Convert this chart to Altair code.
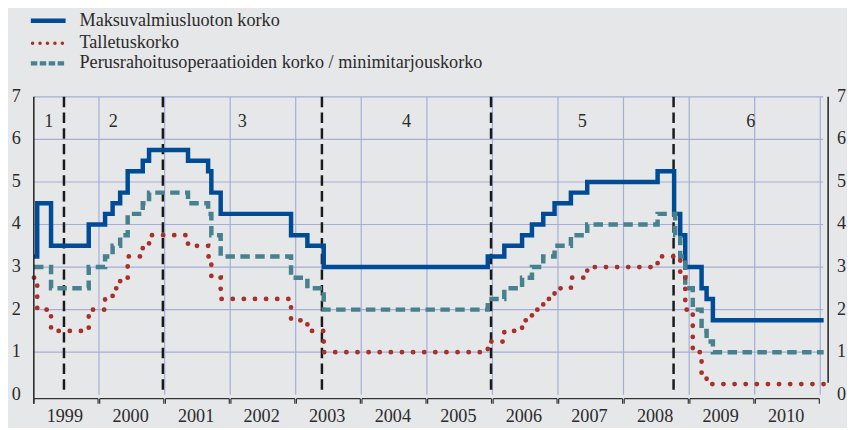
import altair as alt
import pandas as pd

W, H = 800, 300
BLUE = "#004b96"
TEAL = "#47818e"
RED = "#a8302b"
GRID = "#a4aed6"
INK = "#2b2b2b"
FONT = "'Liberation Serif', 'Times New Roman', 'DejaVu Serif', serif"
FS = 18.3

# ---- data (ECB key rates, step changes) ----
dates_marginal = ["1999-01-04", "1999-01-22", "1999-04-09", "1999-11-05",
                  "2000-02-04", "2000-03-17", "2000-04-28", "2000-06-09", "2000-09-01", "2000-10-06",
                  "2001-05-11", "2001-08-31", "2001-09-18", "2001-11-09",
                  "2002-12-06", "2003-03-07", "2003-06-06", "2005-12-06",
                  "2006-03-08", "2006-06-15", "2006-08-09", "2006-10-11", "2006-12-13",
                  "2007-03-14", "2007-06-13",
                  "2008-07-09", "2008-10-09", "2008-11-12", "2008-12-10",
                  "2009-03-11", "2009-04-08", "2009-05-13", "2011-01-20"]
marginal = [3.25, 4.50, 3.50, 4.00,
            4.25, 4.50, 4.75, 5.25, 5.50, 5.75,
            5.50, 5.25, 4.75, 4.25,
            3.75, 3.50, 3.00, 3.25,
            3.50, 3.75, 4.00, 4.25, 4.50,
            4.75, 5.00,
            5.25, 4.25, 3.75, 3.00,
            2.50, 2.25, 1.75, 1.75]

dates_mro = ["1999-01-04", "1999-04-09", "1999-11-05",
             "2000-02-04", "2000-03-17", "2000-04-28", "2000-06-09", "2000-09-01", "2000-10-06",
             "2001-05-11", "2001-08-31", "2001-09-18", "2001-11-09",
             "2002-12-06", "2003-03-07", "2003-06-06", "2005-12-06",
             "2006-03-08", "2006-06-15", "2006-08-09", "2006-10-11", "2006-12-13",
             "2007-03-14", "2007-06-13",
             "2008-07-09", "2008-10-15", "2008-11-12", "2008-12-10",
             "2009-01-21", "2009-03-11", "2009-04-08", "2009-05-13", "2011-01-20"]
mro = [3.00, 2.50, 3.00,
       3.25, 3.50, 3.75, 4.25, 4.50, 4.75,
       4.50, 4.25, 3.75, 3.25,
       2.75, 2.50, 2.00, 2.25,
       2.50, 2.75, 3.00, 3.25, 3.50,
       3.75, 4.00,
       4.25, 3.75, 3.25, 2.50,
       2.00, 1.50, 1.25, 1.00, 1.00]

dates_deposit = ["1999-01-04", "1999-01-22", "1999-04-09", "1999-11-05",
                 "2000-02-04", "2000-03-17", "2000-04-28", "2000-06-09", "2000-09-01", "2000-10-06",
                 "2001-05-11", "2001-08-31", "2001-09-18", "2001-11-09",
                 "2002-12-06", "2003-03-07", "2003-06-06", "2005-12-06",
                 "2006-03-08", "2006-06-15", "2006-08-09", "2006-10-11", "2006-12-13",
                 "2007-03-14", "2007-06-13",
                 "2008-07-09", "2008-11-12", "2008-12-10",
                 "2009-01-21", "2009-03-11", "2009-04-08", "2011-01-20"]
deposit = [2.75, 2.00, 1.50, 2.00,
           2.25, 2.50, 2.75, 3.25, 3.50, 3.75,
           3.50, 3.25, 2.75, 2.25,
           1.75, 1.50, 1.00, 1.25,
           1.50, 1.75, 2.00, 2.25, 2.50,
           2.75, 3.00,
           3.25, 2.75, 2.00,
           1.00, 0.50, 0.25, 0.25]

series_names = ["Maksuvalmiusluoton korko", "Talletuskorko",
                "Perusrahoitusoperaatioiden korko / minimitarjouskorko"]
years = list(range(1999, 2011))
year_labels = [str(y) for y in years]
grid_years = list(range(2000, 2012))
period_bounds = ["1999-06-20", "2000-12-22", "2003-05-27", "2005-12-24", "2008-10-06"]
period_labels = ["1", "2", "3", "4", "5", "6"]
y_ticks = [0, 1, 2, 3, 4, 5, 6, 7]
x_start, x_end = "1999-01-03", "2011-02-14"

# ---- scales ----
xs = alt.Scale(type="utc", domain=[alt.DateTime(year=1999, month=1, date=3, utc=True),
                                   alt.DateTime(year=2011, month=2, date=14, utc=True)])
ys = alt.Scale(domain=[0, 7], nice=False, zero=False)

def X(f):
    return alt.X(f, type="temporal", scale=xs, axis=None)

def Y(f):
    return alt.Y(f, type="quantitative", scale=ys, axis=None)

one = pd.DataFrame({"k": [0]})

# grid
hgrid = alt.Chart(pd.DataFrame({"t": y_ticks[1:]})).mark_rule(color=GRID, strokeWidth=1.2).encode(
    y=Y("t"), x=alt.value(0), x2=alt.value(W - 5))
vgrid = alt.Chart(pd.DataFrame({"d": [f"{y}-01-01" for y in grid_years]})).mark_rule(
    color=GRID, strokeWidth=1.2).encode(x=X("d"), y=alt.value(0), y2=alt.value(H))

# period separators
plines = alt.Chart(pd.DataFrame({"d": period_bounds})).mark_rule(
    color="#1a1a1a", strokeWidth=2.5, strokeDash=[10.5, 5.3]).encode(
    x=X("d"), y=alt.value(0), y2=alt.value(H))
edges = [x_start] + period_bounds + [x_end]
mids = [(pd.Timestamp(a) + (pd.Timestamp(b) - pd.Timestamp(a)) / 2).strftime("%Y-%m-%d")
        for a, b in zip(edges[:-1], edges[1:])]
plabels = alt.Chart(pd.DataFrame({"d": mids, "l": period_labels})).mark_text(
    font=FONT, fontSize=FS, color=INK, baseline="middle").encode(
    x=X("d"), y=alt.value(25), text="l:N")

# series
def series(dates, vals, **kw):
    return alt.Chart(pd.DataFrame({"date": dates, "rate": vals})).mark_line(
        interpolate="step-after", **kw).encode(x=X("date"), y=Y("rate"))

l_blue = series(dates_marginal, marginal, color=BLUE, strokeWidth=4.5, strokeJoin="miter")
l_teal = series(dates_mro, mro, color=TEAL, strokeWidth=4.5, strokeDash=[9.5, 5.5], strokeCap="butt")
l_red = series(dates_deposit, deposit, color=RED, strokeWidth=4.8, strokeDash=[0.1, 11.1], strokeCap="round")

# axes
left_line = alt.Chart(one).mark_rule(color="#222222", strokeWidth=1.5).encode(
    x=alt.value(0), y=alt.value(0), y2=alt.value(H + 9))
right_line = alt.Chart(one).mark_rule(color="#222222", strokeWidth=1.5).encode(
    x=alt.value(W), y=alt.value(0), y2=alt.value(H - 12))
ydf = pd.DataFrame({"t": y_ticks})
ylab_l = alt.Chart(ydf).mark_text(font=FONT, fontSize=FS, color=INK, align="right", baseline="middle").encode(
    y=Y("t"), x=alt.value(-13), text="t:N")
ylab_r = alt.Chart(ydf).mark_text(font=FONT, fontSize=FS, color=INK, align="left", baseline="middle").encode(
    y=Y("t"), x=alt.value(809), text="t:N")

bstart = [x_start if y == 1999 else f"{y}-01-05" for y in years]
bend = [f"{y}-12-27" for y in years]
bdf = pd.DataFrame({"s": bstart, "e": bend})
brk = alt.Chart(bdf).mark_rule(color="#333333", strokeWidth=1.2).encode(
    x=X("s"), x2="e:T", y=alt.value(H + 4))
tdf = pd.DataFrame({"d": bstart + bend})
brk_t = alt.Chart(tdf).mark_rule(color="#333333", strokeWidth=1.2).encode(
    x=X("d"), y=alt.value(H + 4), y2=alt.value(H + 9))
ylabels = alt.Chart(pd.DataFrame({"d": [f"{y}-06-25" for y in years], "l": year_labels})).mark_text(
    font=FONT, fontSize=FS, color=INK, baseline="middle").encode(
    x=X("d"), y=alt.value(H + 22), text="l:N")

# legend
leg = []
rows = [-76.7, -54, -33.7]
leg.append(alt.Chart(one).mark_rule(color=BLUE, strokeWidth=4.5).encode(
    x=alt.value(-3), x2=alt.value(32), y=alt.value(rows[0])))
leg.append(alt.Chart(one).mark_rule(color=RED, strokeWidth=3.5, strokeDash=[0.1, 7.4], strokeCap="round").encode(
    x=alt.value(-1.3), x2=alt.value(30), y=alt.value(rows[1])))
leg.append(alt.Chart(one).mark_rule(color=TEAL, strokeWidth=4.3, strokeDash=[6.5, 2.5]).encode(
    x=alt.value(-3), x2=alt.value(32), y=alt.value(rows[2])))
for name, r in zip(series_names, rows):
    leg.append(alt.Chart(pd.DataFrame({"n": [name]})).mark_text(
        font=FONT, fontSize=FS, color=INK, align="left", baseline="middle").encode(
        x=alt.value(46), y=alt.value(r), text="n:N"))

chart = alt.layer(
    hgrid, vgrid, plines, plabels, l_blue, l_teal, l_red,
    left_line, right_line, ylab_l, ylab_r, brk, brk_t, ylabels, *leg
).properties(
    width=W, height=H,
    autosize=alt.AutoSizeParams(type="none"),
    padding={"left": 26, "top": 88, "right": 19, "bottom": 32},
).configure(background="#e6e7e9").configure_view(stroke=None)

chart.save("out.html", embed_options={"renderer": "svg", "actions": False})
